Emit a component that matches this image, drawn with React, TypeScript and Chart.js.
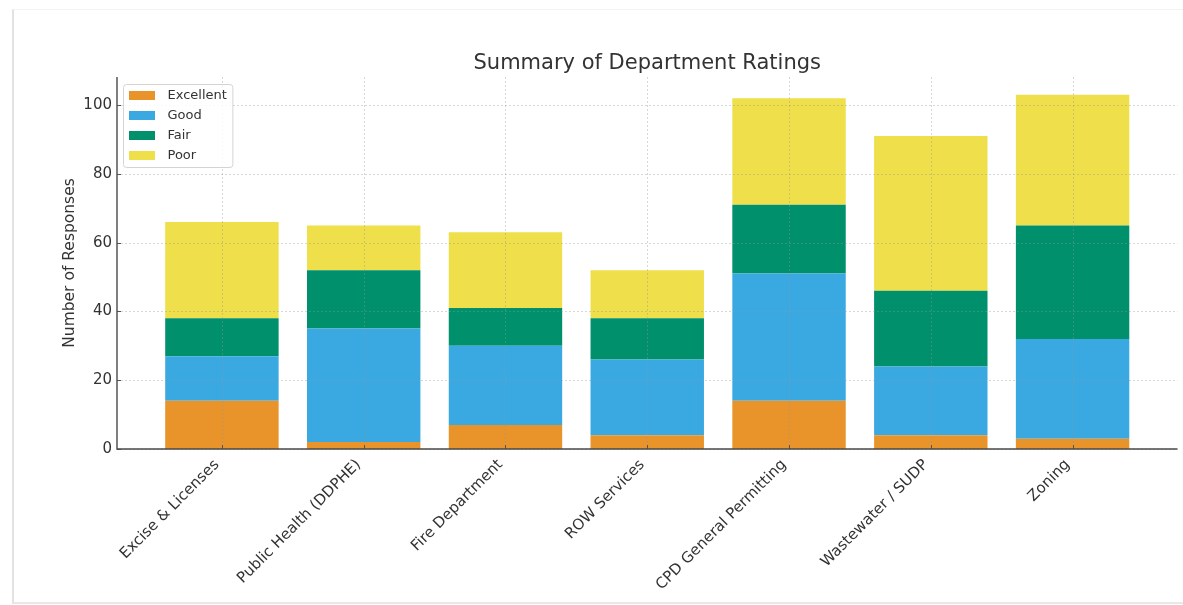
import React, { useEffect, useRef } from "react";
import { Chart, registerables } from "chart.js";

Chart.register(...registerables);

// Departments rated in the survey
const departments = [
  "Excise & Licenses",
  "Public Health (DDPHE)",
  "Fire Department",
  "ROW Services",
  "CPD General Permitting",
  "Wastewater / SUDP",
  "Zoning",
];

// Response counts per rating, one entry per department
const excellent = [14, 2, 7, 4, 14, 4, 3];
const good = [13, 33, 23, 22, 37, 20, 29];
const fair = [11, 17, 11, 12, 20, 22, 33];
const poor = [28, 13, 22, 14, 31, 45, 38];

const ratingLabels = ["Excellent", "Good", "Fair", "Poor"];
const ratingColors = ["#E8942A", "#3BA9E1", "#00906B", "#EEDF4B"];
const yTicks = [0, 20, 40, 60, 80, 100];
const chartTitle = "Summary of Department Ratings";

const FONT = "'DejaVu Sans', Verdana, sans-serif";
const TEXT = "#333333";

// Title centred over the plot area rather than the whole canvas
const titlePlugin = {
  id: "plotTitle",
  afterDraw(chart: any) {
    const { ctx, chartArea: a } = chart;
    ctx.save();
    ctx.font = `21px ${FONT}`;
    ctx.fillStyle = TEXT;
    ctx.textAlign = "center";
    ctx.textBaseline = "alphabetic";
    ctx.fillText(chartTitle, (a.left + a.right) / 2, a.top - 8);
    ctx.restore();
  },
};

// Grid, spines and inward tick marks drawn above the bars
const overlayPlugin = {
  id: "overlay",
  afterDatasetsDraw(chart: any) {
    const { ctx, chartArea: a, scales } = chart;
    const xs = scales.x;
    const ys = scales.y;
    ctx.save();
    ctx.lineWidth = 1;
    ctx.strokeStyle = "rgba(150,150,150,0.38)";
    ctx.setLineDash([2, 2]);
    ys.ticks.forEach((t: any) => {
      const py = Math.round(ys.getPixelForValue(t.value)) + 0.5;
      ctx.beginPath();
      ctx.moveTo(a.left, py);
      ctx.lineTo(a.right, py);
      ctx.stroke();
    });
    xs.ticks.forEach((t: any) => {
      const px = Math.round(xs.getPixelForValue(t.value)) + 0.5;
      ctx.beginPath();
      ctx.moveTo(px, a.top);
      ctx.lineTo(px, a.bottom);
      ctx.stroke();
    });
    ctx.setLineDash([]);
    ctx.strokeStyle = "#555555";
    ctx.lineWidth = 1;
    ys.ticks.forEach((t: any) => {
      const py = Math.round(ys.getPixelForValue(t.value)) + 0.5;
      ctx.beginPath();
      ctx.moveTo(a.left, py);
      ctx.lineTo(a.left + 4, py);
      ctx.stroke();
    });
    xs.ticks.forEach((t: any) => {
      const px = Math.round(xs.getPixelForValue(t.value)) + 0.5;
      ctx.beginPath();
      ctx.moveTo(px, a.bottom);
      ctx.lineTo(px, a.bottom - 4);
      ctx.stroke();
    });
    ctx.lineWidth = 1.4;
    ctx.strokeStyle = "#4a4a4a";
    ctx.beginPath();
    ctx.moveTo(a.left, a.top);
    ctx.lineTo(a.left, a.bottom);
    ctx.lineTo(a.right, a.bottom);
    ctx.stroke();
    ctx.restore();
  },
};

// Framed legend in the upper-left corner of the plot area
const legendPlugin = {
  id: "innerLegend",
  afterDraw(chart: any) {
    const { ctx, chartArea: a } = chart;
    const sets = chart.data.datasets;
    ctx.save();
    ctx.font = `13px ${FONT}`;
    const maxText = Math.max(...sets.map((d: any) => ctx.measureText(d.label).width));
    const boxX = a.left + 6.5;
    const boxY = a.top + 7.5;
    const rowH = 20;
    const boxW = 44 + maxText + 6;
    const boxH = 83;
    ctx.fillStyle = "rgba(255,255,255,0.85)";
    ctx.strokeStyle = "#d4d4d4";
    ctx.lineWidth = 1;
    ctx.beginPath();
    ctx.roundRect(boxX, boxY, boxW, boxH, 3);
    ctx.fill();
    ctx.stroke();
    sets.forEach((d: any, i: number) => {
      const cy = boxY + 11 + i * rowH;
      ctx.fillStyle = d.backgroundColor;
      ctx.fillRect(boxX + 5.5, cy - 4.5, 26, 9);
      ctx.fillStyle = TEXT;
      ctx.textAlign = "left";
      ctx.textBaseline = "middle";
      ctx.fillText(d.label, boxX + 44, cy);
    });
    ctx.restore();
  },
};

export default function App() {
  const canvasRef = useRef<HTMLCanvasElement | null>(null);

  useEffect(() => {
    const canvas = canvasRef.current;
    if (!canvas) return;
    const series = [excellent, good, fair, poor];
    const chart = new Chart(canvas, {
      type: "bar",
      data: {
        datasets: series.map((vals, s) => ({
          label: ratingLabels[s],
          data: vals.map((v, i) => ({ x: i, y: v })),
          backgroundColor: ratingColors[s],
          borderWidth: 0,
          barPercentage: 0.8,
          categoryPercentage: 1,
        })),
      },
      options: {
        responsive: false,
        animation: false,
        devicePixelRatio: 1,
        layout: { padding: { left: 0, right: 5.5, top: 77, bottom: 0 } },
        plugins: {
          legend: { display: false },
          tooltip: { enabled: false },
          title: { display: false },
        },
        scales: {
          x: {
            type: "linear",
            stacked: true,
            offset: false,
            min: -0.74,
            max: 6.74,
            afterBuildTicks: (s: any) => {
              s.ticks = departments.map((_, i) => ({ value: i }));
            },
            afterFit: (s: any) => {
              s.height = 156;
            },
            grid: { display: false, drawTicks: false, offset: false },
            border: { display: false },
            ticks: {
              autoSkip: false,
              minRotation: 45,
              maxRotation: 45,
              padding: 7,
              labelOffset: -5,
              color: TEXT,
              font: { family: FONT, size: 15 },
              callback: (v: any) => departments[v] ?? "",
            },
          },
          y: {
            stacked: true,
            min: 0,
            max: 108.15,
            afterBuildTicks: (s: any) => {
              s.ticks = yTicks.map((v) => ({ value: v }));
            },
            afterFit: (s: any) => {
              s.width = 117;
            },
            grid: { display: false, drawTicks: false },
            border: { display: false },
            ticks: {
              padding: 5,
              color: TEXT,
              font: { family: FONT, size: 15 },
            },
            title: {
              display: true,
              text: "Number of Responses",
              color: TEXT,
              font: { family: FONT, size: 15.5, lineHeight: 1.2 },
              padding: { top: 60.7, bottom: 0 },
            },
          },
        },
      },
      plugins: [overlayPlugin, legendPlugin, titlePlugin],
    } as any);
    return () => chart.destroy();
  }, []);

  return (
    <div
      style={{
        position: "fixed",
        left: 0,
        top: 0,
        width: 1183,
        height: 605,
        background: "#ffffff",
        overflow: "hidden",
      }}
    >
      <div
        style={{
          position: "absolute",
          left: 12,
          top: 9,
          right: -10,
          bottom: 1,
          borderLeft: "2px solid #e2e2e2",
          borderTop: "1px solid #f2f2f2",
          borderBottom: "2px solid #e8e8e8",
        }}
      />
      <canvas
        ref={canvasRef}
        width={1183}
        height={605}
        style={{ position: "absolute", left: 0, top: 0, width: 1183, height: 605 }}
      />
    </div>
  );
}
